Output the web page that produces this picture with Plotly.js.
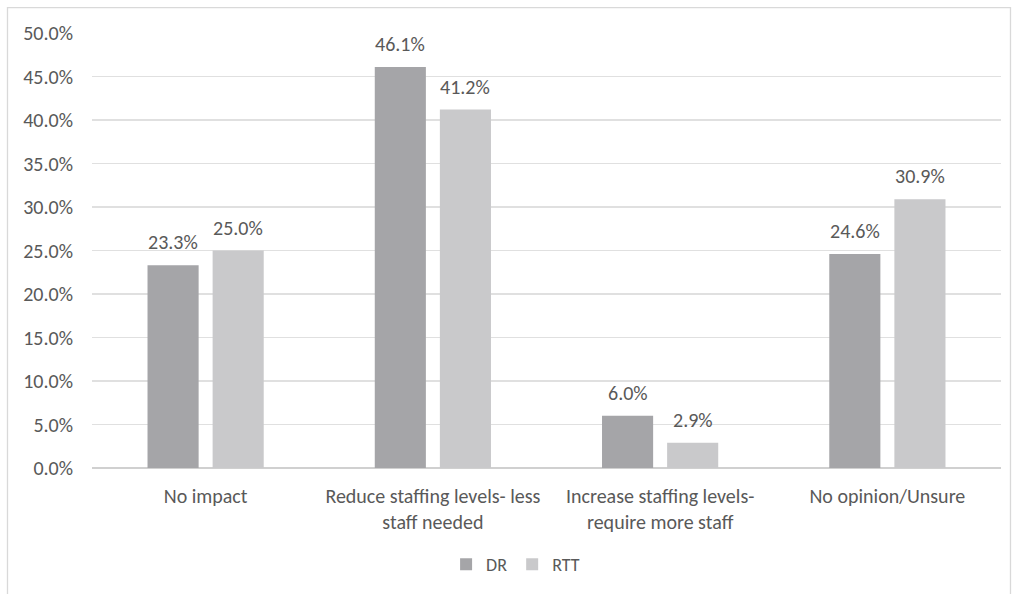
<!DOCTYPE html>
<html>
<head>
<meta charset="utf-8">
<script src="https://cdn.plot.ly/plotly-3.0.1.min.js"></script>
<style>
  html, body { margin: 0; padding: 0; background: #ffffff; }
  #chart { width: 1012px; height: 594px; }
</style>
</head>
<body>
<div id="chart"></div>
<script>
// Survey responses: expected impact on staffing
const categories = [
  "No impact",
  "Reduce staffing levels- less<br>staff needed",
  "Increase staffing levels-<br>require more staff",
  "No opinion/Unsure"
];
const drValues = [23.3, 46.1, 6.0, 24.6];
const rttValues = [25.0, 41.2, 2.9, 30.9];
const yTicks = [0, 5, 10, 15, 20, 25, 30, 35, 40, 45, 50];

const textColor = "#595959";
const fontFamily = "Carlito, Calibri, 'Liberation Sans', Arial, sans-serif";
const fontSize = 20;

const ml = 92, mr = 11, mt = 33, mb = 124;
const W = 1012, H = 594;
const pw = W - ml - mr, ph = H - mt - mb;
const px = x => (x - ml) / pw;
const py = y => (H - mb - y) / ph;

const bargap = 0.427;
const slotPx = (pw / categories.length) * (1 - bargap) / 2;

function barTrace(name, values, color) {
  return {
    type: "bar",
    name: name,
    x: categories,
    y: values,
    marker: { color: color },
    hoverinfo: "skip"
  };
}

const data = [
  barTrace("DR", drValues, "#a5a5a8"),
  barTrace("RTT", rttValues, "#c9c9cb")
];

// Value labels placed above each bar of the grouped pair
function valueLabels(values, shift) {
  return values.map((v, i) => ({
    x: categories[i],
    y: v,
    xref: "x", yref: "y",
    text: v.toFixed(1) + "%",
    showarrow: false,
    xanchor: "center",
    yanchor: "bottom",
    xshift: shift,
    yshift: 9,
    font: { family: fontFamily, size: fontSize, color: textColor }
  }));
}

const layout = {
  width: W,
  height: H,
  margin: { l: ml, r: mr, t: mt, b: mb },
  paper_bgcolor: "#ffffff",
  plot_bgcolor: "#ffffff",
  font: { family: fontFamily, size: fontSize, color: textColor },
  barmode: "group",
  bargap: bargap,
  bargroupgap: 0.215,
  showlegend: true,
  legend: {
    orientation: "h",
    x: 0.466, xanchor: "center",
    y: py(567), yanchor: "middle",
    font: { family: fontFamily, size: 18, color: textColor },
    itemwidth: 30,
    tracegroupgap: 0,
    traceorder: "normal"
  },
  xaxis: {
    type: "category",
    showgrid: false,
    showline: false,
    zeroline: false,
    ticks: "",
    ticklabelstandoff: 14,
    tickfont: { family: fontFamily, size: fontSize, color: textColor }
  },
  yaxis: {
    range: [0, 50],
    tickvals: yTicks,
    ticktext: yTicks.map(v => v.toFixed(1) + "%"),
    showgrid: true,
    gridcolor: "#e0e0e0",
    gridwidth: 1.3,
    zeroline: true,
    zerolinecolor: "#d0d0d0",
    zerolinewidth: 1.3,
    showline: false,
    ticks: "",
    ticklabelstandoff: 18,
    tickfont: { family: fontFamily, size: fontSize, color: textColor },
    fixedrange: true
  },
  annotations: valueLabels(drValues, -slotPx / 2).concat(valueLabels(rttValues, slotPx / 2)),
  shapes: [
    {
      type: "rect",
      xref: "paper", yref: "paper",
      x0: px(7.5), x1: px(1010.5),
      y0: py(620), y1: py(7.5),
      line: { color: "#d9d9d9", width: 1.3 },
      fillcolor: "rgba(0,0,0,0)",
      layer: "below"
    }
  ]
};

Plotly.newPlot("chart", data, layout, { staticPlot: true, displayModeBar: false });
</script>
</body>
</html>
